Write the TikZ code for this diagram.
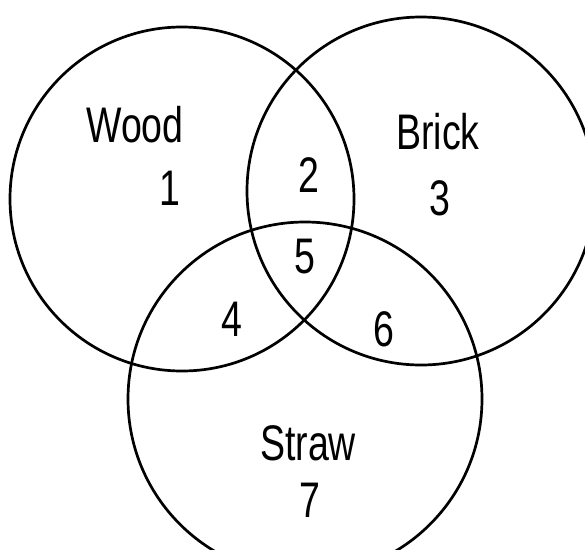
\documentclass[tikz,border=0pt]{standalone}
\usepackage{fontspec}
\setmainfont{Liberation Sans}[FakeStretch=0.75]
\usepackage{tikz}
\usetikzlibrary{positioning}

\begin{document}
\begin{tikzpicture}[
    x=1pt, y=-1pt,
    setcircle/.style={circle, draw=black, line width=2.7pt, inner sep=0pt},
    setname/.style={font=\fontsize{50}{50}\selectfont, inner sep=0pt},
    region/.style={font=\fontsize{50}{50}\selectfont, inner sep=0pt}
]
    \useasboundingbox (0,0) rectangle (585,549);
    \clip (0,0) rectangle (585,549);

    % the three sets
    \node [setcircle, minimum size=344pt] (wood) at (182,199) {};
    \node [setcircle, minimum size=348pt] (brick) at (421,191) {};
    \node [setcircle, minimum size=354pt] (straw) at (305,399) {};

    % set names
    \node [setname] (woodname) at (135,125) {Wood};
    \node [setname] (brickname) at (438,132) {Brick};
    \node [setname] (strawname) at (308,443) {Straw};

    % regions
    \node [region] (r1) at (170,188) {1};
    \node [region] (r2) at (309,175) {2};
    \node [region] (r3) at (440,198) {3};
    \node [region] (r4) at (232,319) {4};
    \node [region] (r5) at (305,257) {5};
    \node [region] (r6) at (384,329) {6};
    \node [region] (r7) at (310,500) {7};
\end{tikzpicture}
\end{document}
